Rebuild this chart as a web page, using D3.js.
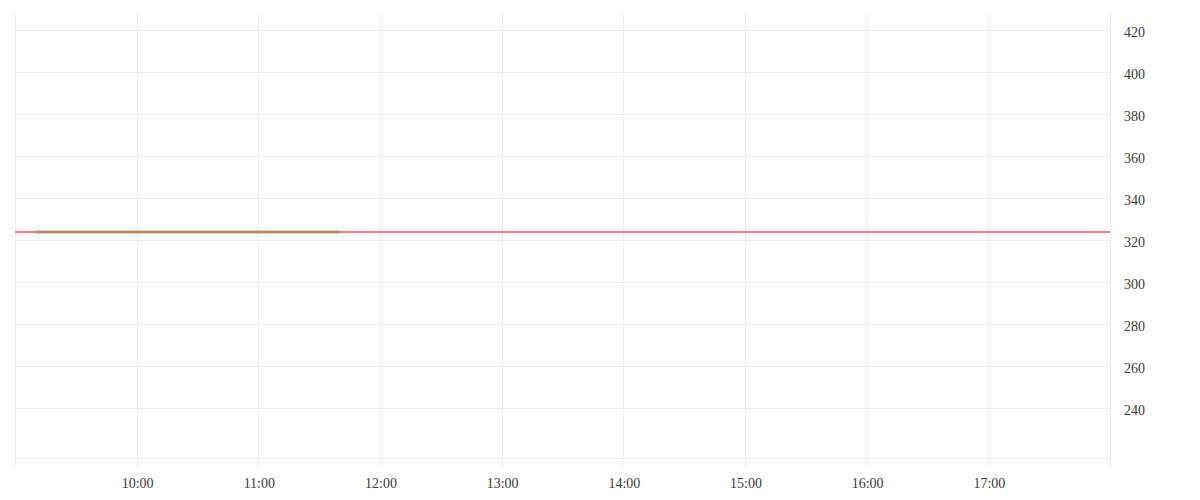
<!DOCTYPE html>
<html>
<head>
<meta charset="utf-8">
<script src="https://cdn.jsdelivr.net/npm/d3@7"></script>
<style>
    body { margin: 0; background: #fff; }
    text { font-family: "Liberation Serif", serif; font-size: 14px; fill: #3a3a3a; }
</style>
</head>
<body>
<div id="chart"></div>
<script>
// 数据
let times = ["09:10", "09:20", "09:30", "09:40", "09:50", "10:00", "10:10", "10:20",
    "10:30", "10:40", "10:50", "11:00", "11:10", "11:20", "11:30", "11:40"];
let prices = [324, 324, 324, 324, 324, 324, 324, 324,
    324, 324, 324, 324, 324, 324, 324, 324];
let priceLine = 324;
let yTicks = [240, 260, 280, 300, 320, 340, 360, 380, 400, 420];
let xTicks = ["10:00", "11:00", "12:00", "13:00", "14:00", "15:00", "16:00", "17:00"];
let xDomain = ["09:00", "18:00"];
let yDomain = [216.4, 428.8];

let width = 1200, height = 500;
let parseT = d3.timeParse("%H:%M");

let svg = d3.select("#chart").append("svg")
    .attr("width", width)
    .attr("height", height);

let x = d3.scaleTime().domain(xDomain.map(parseT)).range([15, 1110]);
let y = d3.scaleLinear().domain(yDomain).range([458, 12]);

let grid = svg.append("g").attr("stroke", "#eeeeee").attr("stroke-width", 1);

// 横向网格
grid.selectAll(".hg")
    .data(yTicks)
    .enter()
    .append("line")
    .attr("x1", x.range()[0])
    .attr("x2", x.range()[1])
    .attr("y1", d => Math.round(y(d)) + 0.5)
    .attr("y2", d => Math.round(y(d)) + 0.5);

// 底边
grid.append("line")
    .attr("x1", x.range()[0]).attr("x2", x.range()[1])
    .attr("y1", 458.5).attr("y2", 458.5);

// 纵向网格 (含左右边)
let vlines = [xDomain[0]].concat(xTicks, [xDomain[1]]);
grid.selectAll(".vg")
    .data(vlines)
    .enter()
    .append("line")
    .attr("x1", d => Math.round(x(parseT(d))) + 0.5)
    .attr("x2", d => Math.round(x(parseT(d))) + 0.5)
    .attr("y1", 12)
    .attr("y2", 467);

// x轴标签
svg.append("g")
    .selectAll("text")
    .data(xTicks)
    .enter()
    .append("text")
    .attr("x", d => x(parseT(d)) + 1)
    .attr("y", 488)
    .attr("text-anchor", "middle")
    .text(d => d);

// y轴标签
svg.append("g")
    .selectAll("text")
    .data(yTicks)
    .enter()
    .append("text")
    .attr("x", 1124)
    .attr("y", d => y(d) + 6.5)
    .text(d => d);

// 价格线
let line = d3.line()
    .x((d, i) => x(parseT(times[i])))
    .y(d => y(d));

svg.append("path")
    .datum(prices)
    .attr("d", line)
    .attr("fill", "none")
    .attr("stroke", "rgba(56,168,80,0.4)")
    .attr("stroke-width", 4);

svg.append("line")
    .attr("x1", x.range()[0])
    .attr("x2", x.range()[1])
    .attr("y1", y(priceLine))
    .attr("y2", y(priceLine))
    .attr("stroke", "#f4525a")
    .attr("stroke-width", 1.5);
</script>
</body>
</html>
